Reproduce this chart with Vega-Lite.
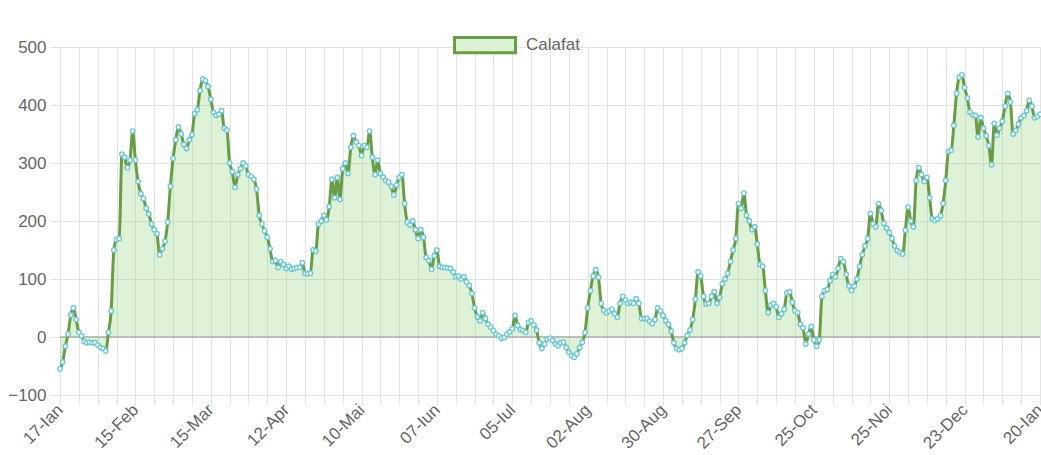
{
  "$schema": "https://vega.github.io/schema/vega-lite/v6.json",
  "width": 980,
  "height": 348,
  "autosize": {"type": "none"},
  "padding": {"left": 60, "top": 47, "right": 1, "bottom": 60},
  "background": "white",
  "config": {
    "view": {"stroke": null},
    "font": "Liberation Sans"
  },
  "data": {
    "values": [
      {"day":0,"value":-55},{"day":1,"value":-43},{"day":2,"value":-16},{"day":3,"value":5},{"day":4,"value":38},{"day":5,"value":50},{"day":6,"value":30},{"day":7,"value":8},{"day":8,"value":2},{"day":9,"value":-8},
      {"day":10,"value":-10},{"day":11,"value":-9},{"day":12,"value":-10},{"day":13,"value":-10},{"day":14,"value":-14},{"day":15,"value":-18},{"day":16,"value":-20},{"day":17,"value":-24},{"day":18,"value":8},{"day":19,"value":45},
      {"day":20,"value":150},{"day":21,"value":168},{"day":22,"value":170},{"day":23,"value":315},{"day":24,"value":310},{"day":25,"value":292},{"day":26,"value":305},{"day":27,"value":355},{"day":28,"value":305},{"day":29,"value":268},
      {"day":30,"value":247},{"day":31,"value":239},{"day":32,"value":222},{"day":33,"value":212},{"day":34,"value":195},{"day":35,"value":185},{"day":36,"value":178},{"day":37,"value":142},{"day":38,"value":152},{"day":39,"value":165},
      {"day":40,"value":198},{"day":41,"value":260},{"day":42,"value":308},{"day":43,"value":340},{"day":44,"value":362},{"day":45,"value":350},{"day":46,"value":332},{"day":47,"value":325},{"day":48,"value":340},{"day":49,"value":349},
      {"day":50,"value":385},{"day":51,"value":392},{"day":52,"value":425},{"day":53,"value":445},{"day":54,"value":442},{"day":55,"value":432},{"day":56,"value":410},{"day":57,"value":387},{"day":58,"value":382},{"day":59,"value":384},
      {"day":60,"value":390},{"day":61,"value":360},{"day":62,"value":357},{"day":63,"value":300},{"day":64,"value":285},{"day":65,"value":258},{"day":66,"value":280},{"day":67,"value":290},{"day":68,"value":300},{"day":69,"value":295},
      {"day":70,"value":280},{"day":71,"value":277},{"day":72,"value":272},{"day":73,"value":255},{"day":74,"value":210},{"day":75,"value":195},{"day":76,"value":183},{"day":77,"value":172},{"day":78,"value":152},{"day":79,"value":130},
      {"day":80,"value":132},{"day":81,"value":120},{"day":82,"value":130},{"day":83,"value":125},{"day":84,"value":118},{"day":85,"value":122},{"day":86,"value":117},{"day":87,"value":118},{"day":88,"value":120},{"day":89,"value":120},
      {"day":90,"value":128},{"day":91,"value":110},{"day":92,"value":109},{"day":93,"value":110},{"day":94,"value":150},{"day":95,"value":148},{"day":96,"value":195},{"day":97,"value":200},{"day":98,"value":210},{"day":99,"value":202},
      {"day":100,"value":225},{"day":101,"value":272},{"day":102,"value":240},{"day":103,"value":275},{"day":104,"value":237},{"day":105,"value":290},{"day":106,"value":300},{"day":107,"value":282},{"day":108,"value":327},{"day":109,"value":347},
      {"day":110,"value":336},{"day":111,"value":330},{"day":112,"value":313},{"day":113,"value":330},{"day":114,"value":327},{"day":115,"value":355},{"day":116,"value":310},{"day":117,"value":280},{"day":118,"value":305},{"day":119,"value":282},
      {"day":120,"value":276},{"day":121,"value":270},{"day":122,"value":267},{"day":123,"value":260},{"day":124,"value":245},{"day":125,"value":262},{"day":126,"value":275},{"day":127,"value":280},{"day":128,"value":230},{"day":129,"value":198},
      {"day":130,"value":193},{"day":131,"value":200},{"day":132,"value":185},{"day":133,"value":170},{"day":134,"value":185},{"day":135,"value":172},{"day":136,"value":137},{"day":137,"value":132},{"day":138,"value":117},{"day":139,"value":140},
      {"day":140,"value":150},{"day":141,"value":122},{"day":142,"value":120},{"day":143,"value":120},{"day":144,"value":119},{"day":145,"value":118},{"day":146,"value":112},{"day":147,"value":104},{"day":148,"value":105},{"day":149,"value":100},
      {"day":150,"value":104},{"day":151,"value":95},{"day":152,"value":89},{"day":153,"value":75},{"day":154,"value":50},{"day":155,"value":35},{"day":156,"value":28},{"day":157,"value":42},{"day":158,"value":32},{"day":159,"value":22},
      {"day":160,"value":17},{"day":161,"value":11},{"day":162,"value":5},{"day":163,"value":2},{"day":164,"value":-2},{"day":165,"value":-1},{"day":166,"value":5},{"day":167,"value":9},{"day":168,"value":14},{"day":169,"value":37},
      {"day":170,"value":20},{"day":171,"value":13},{"day":172,"value":11},{"day":173,"value":8},{"day":174,"value":25},{"day":175,"value":28},{"day":176,"value":21},{"day":177,"value":12},{"day":178,"value":-10},{"day":179,"value":-20},
      {"day":180,"value":-12},{"day":181,"value":-4},{"day":182,"value":-2},{"day":183,"value":-6},{"day":184,"value":-12},{"day":185,"value":-15},{"day":186,"value":-10},{"day":187,"value":-9},{"day":188,"value":-18},{"day":189,"value":-26},
      {"day":190,"value":-32},{"day":191,"value":-35},{"day":192,"value":-29},{"day":193,"value":-18},{"day":194,"value":-9},{"day":195,"value":8},{"day":196,"value":50},{"day":197,"value":80},{"day":198,"value":105},{"day":199,"value":116},
      {"day":200,"value":103},{"day":201,"value":58},{"day":202,"value":46},{"day":203,"value":42},{"day":204,"value":45},{"day":205,"value":48},{"day":206,"value":40},{"day":207,"value":34},{"day":208,"value":58},{"day":209,"value":70},
      {"day":210,"value":64},{"day":211,"value":58},{"day":212,"value":60},{"day":213,"value":58},{"day":214,"value":66},{"day":215,"value":58},{"day":216,"value":32},{"day":217,"value":32},{"day":218,"value":32},{"day":219,"value":27},
      {"day":220,"value":23},{"day":221,"value":30},{"day":222,"value":50},{"day":223,"value":45},{"day":224,"value":37},{"day":225,"value":28},{"day":226,"value":22},{"day":227,"value":10},{"day":228,"value":-10},{"day":229,"value":-20},
      {"day":230,"value":-22},{"day":231,"value":-20},{"day":232,"value":-10},{"day":233,"value":3},{"day":234,"value":12},{"day":235,"value":30},{"day":236,"value":65},{"day":237,"value":112},{"day":238,"value":105},{"day":239,"value":70},
      {"day":240,"value":57},{"day":241,"value":58},{"day":242,"value":70},{"day":243,"value":78},{"day":244,"value":58},{"day":245,"value":68},{"day":246,"value":92},{"day":247,"value":100},{"day":248,"value":110},{"day":249,"value":130},
      {"day":250,"value":150},{"day":251,"value":170},{"day":252,"value":230},{"day":253,"value":222},{"day":254,"value":248},{"day":255,"value":210},{"day":256,"value":200},{"day":257,"value":185},{"day":258,"value":190},{"day":259,"value":160},
      {"day":260,"value":125},{"day":261,"value":122},{"day":262,"value":80},{"day":263,"value":42},{"day":264,"value":55},{"day":265,"value":58},{"day":266,"value":52},{"day":267,"value":34},{"day":268,"value":40},{"day":269,"value":48},
      {"day":270,"value":76},{"day":271,"value":78},{"day":272,"value":60},{"day":273,"value":45},{"day":274,"value":42},{"day":275,"value":22},{"day":276,"value":16},{"day":277,"value":-12},{"day":278,"value":5},{"day":279,"value":18},
      {"day":280,"value":-5},{"day":281,"value":-16},{"day":282,"value":-5},{"day":283,"value":70},{"day":284,"value":80},{"day":285,"value":82},{"day":286,"value":97},{"day":287,"value":108},{"day":288,"value":104},{"day":289,"value":118},
      {"day":290,"value":135},{"day":291,"value":130},{"day":292,"value":108},{"day":293,"value":88},{"day":294,"value":80},{"day":295,"value":88},{"day":296,"value":100},{"day":297,"value":122},{"day":298,"value":142},{"day":299,"value":157},
      {"day":300,"value":170},{"day":301,"value":213},{"day":302,"value":195},{"day":303,"value":190},{"day":304,"value":230},{"day":305,"value":218},{"day":306,"value":196},{"day":307,"value":188},{"day":308,"value":180},{"day":309,"value":170},
      {"day":310,"value":157},{"day":311,"value":149},{"day":312,"value":146},{"day":313,"value":143},{"day":314,"value":184},{"day":315,"value":224},{"day":316,"value":200},{"day":317,"value":190},{"day":318,"value":270},{"day":319,"value":292},
      {"day":320,"value":280},{"day":321,"value":268},{"day":322,"value":275},{"day":323,"value":240},{"day":324,"value":204},{"day":325,"value":201},{"day":326,"value":204},{"day":327,"value":209},{"day":328,"value":230},{"day":329,"value":270},
      {"day":330,"value":320},{"day":331,"value":322},{"day":332,"value":365},{"day":333,"value":420},{"day":334,"value":448},{"day":335,"value":452},{"day":336,"value":430},{"day":337,"value":412},{"day":338,"value":388},{"day":339,"value":383},
      {"day":340,"value":382},{"day":341,"value":345},{"day":342,"value":378},{"day":343,"value":360},{"day":344,"value":347},{"day":345,"value":330},{"day":346,"value":297},{"day":347,"value":368},{"day":348,"value":348},{"day":349,"value":360},
      {"day":350,"value":372},{"day":351,"value":398},{"day":352,"value":420},{"day":353,"value":405},{"day":354,"value":350},{"day":355,"value":356},{"day":356,"value":367},{"day":357,"value":378},{"day":358,"value":382},{"day":359,"value":390},
      {"day":360,"value":408},{"day":361,"value":398},{"day":362,"value":378},{"day":363,"value":380},{"day":364,"value":384}
    ]
  },
  "encoding": {
    "x": {
      "field": "day",
      "type": "quantitative",
      "scale": {"domain": [0, 364], "nice": false, "zero": false},
      "axis": {
        "title": null,
        "values": [0,7,14,21,28,35,42,49,56,63,70,77,84,91,98,105,112,119,126,133,140,147,154,161,168,175,182,189,196,203,210,217,224,231,238,245,252,259,266,273,280,287,294,301,308,315,322,329,336,343,350,357,364],
        "labelExpr": "datum.value % 28 == 0 ? ['17-Ian','15-Feb','15-Mar','12-Apr','10-Mai','07-Iun','05-Iul','02-Aug','30-Aug','27-Sep','25-Oct','25-Noi','23-Dec','20-Ian'][datum.value / 28] : ''",
        "labelAngle": -45,
        "labelAlign": "right",
        "labelBaseline": "middle",
        "labelPadding": 2,
        "labelOverlap": false,
        "labelBound": false,
        "labelFlush": false,
        "labelFontSize": 17,
        "labelColor": "#666666",
        "labelFont": "Liberation Sans",
        "domain": false,
        "grid": true,
        "gridColor": "#e3e3e3",
        "ticks": true,
        "tickSize": 10,
        "tickColor": "#e3e3e3"
      }
    },
    "y": {
      "field": "value",
      "type": "quantitative",
      "scale": {"domain": [-100, 500], "nice": false},
      "axis": {
        "title": null,
        "values": [-100, 0, 100, 200, 300, 400, 500],
        "labelFontSize": 17,
        "labelColor": "#666666",
        "labelFont": "Liberation Sans",
        "labelPadding": 4,
        "domain": false,
        "grid": true,
        "gridColor": "#e3e3e3",
        "ticks": true,
        "tickSize": 10,
        "tickColor": "#e3e3e3"
      }
    }
  },
  "layer": [
    {
      "mark": {"type": "rule", "color": "#bdbdbd", "strokeWidth": 1},
      "encoding": {"x": null, "y": {"datum": 0}}
    },
    {
      "mark": {"type": "area", "interpolate": "monotone", "color": "#8fd47a", "opacity": 0.3},
      "encoding": {"y2": {"datum": 0}}
    },
    {
      "mark": {"type": "line", "interpolate": "monotone", "strokeWidth": 3},
      "encoding": {
        "stroke": {
          "datum": "Calafat",
          "scale": {"range": ["#6a9c45"]},
          "legend": {
            "title": null,
            "orient": "none",
            "legendX": 393,
            "legendY": -34,
            "padding": 0,
            "symbolType": "M-1,-0.25H1V0.25H-1Z",
            "symbolSize": 3721,
            "symbolStrokeWidth": 3,
            "labelFontSize": 17,
            "labelColor": "#666666",
            "labelFont": "Liberation Sans",
            "labelOffset": 9,
            "encode": {
              "symbols": {
                "update": {
                  "fill": {"value": "#dcf2d4"},
                  "stroke": {"value": "#6a9c45"},
                  "strokeWidth": {"value": 3},
                  "opacity": {"value": 1}
                }
              }
            }
          }
        }
      }
    },
    {
      "mark": {"type": "point", "filled": true, "fill": "#ffffff", "stroke": "#6ccad3", "strokeWidth": 1.4, "size": 20, "opacity": 1}
    }
  ]
}
